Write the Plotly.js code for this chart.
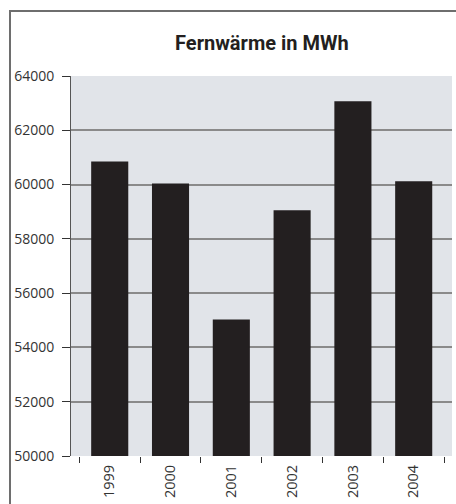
<!DOCTYPE html>
<html>
<head>
<meta charset="utf-8">
<script src="https://cdn.plot.ly/plotly-3.0.1.min.js"></script>
<style>
  html, body { margin: 0; padding: 0; background: #ffffff; overflow: hidden; }
  #frame { position: absolute; left: 9px; top: 10px; width: 600px; height: 600px;
           border-left: 2px solid #6e6e6e; border-top: 2px solid #6e6e6e; }
  #chart { position: absolute; left: 0; top: 0; width: 456px; height: 504px; }
</style>
</head>
<body>
<div id="frame"></div>
<div id="chart"></div>
<script>
const years = ["1999", "2000", "2001", "2002", "2003", "2004"];
const values = [60850, 60040, 55030, 59050, 63070, 60120];
const yTicks = [50000, 52000, 54000, 56000, 58000, 60000, 62000, 64000];
const chartTitle = "Fernwärme in MWh";

const trace = {
  type: "bar",
  x: years,
  y: values,
  width: 0.61,
  marker: { color: "#231f20", line: { width: 0 } },
  hoverinfo: "skip"
};

const layout = {
  width: 456,
  height: 504,
  margin: { l: 71, r: 4, t: 75.5, b: 48, pad: 0 },
  paper_bgcolor: "rgba(0,0,0,0)",
  plot_bgcolor: "#e1e4e9",
  showlegend: false,
  title: {
    text: "<b>" + chartTitle + "</b>",
    font: { family: "Roboto, 'Open Sans', sans-serif", size: 20, color: "#231f20" },
    x: 0.501, xref: "paper", xanchor: "center",
    y: 1 - 43 / 504, yref: "container", yanchor: "middle"
  },
  xaxis: {
    type: "category",
    range: [-0.637, 5.63],
    tickson: "boundaries",
    ticks: "outside",
    ticklen: 6,
    tickwidth: 1,
    tickcolor: "#333333",
    tickangle: -90,
    ticklabelstandoff: 5,
    showgrid: false,
    showline: false,
    zeroline: false,
    tickfont: { family: "'Open Sans', sans-serif", size: 14.5, color: "#333333" },
    fixedrange: true
  },
  yaxis: {
    range: [50000, 64000],
    tickmode: "array",
    tickvals: yTicks,
    ticktext: yTicks.map(String),
    ticks: "outside",
    ticklen: 8,
    tickwidth: 1,
    tickcolor: "#333333",
    showline: true,
    linecolor: "#555555",
    linewidth: 1,
    showgrid: true,
    gridcolor: "#8a8a8a",
    gridwidth: 2,
    zeroline: false,
    ticklabelstandoff: 5,
    tickfont: { family: "'Open Sans', sans-serif", size: 14, color: "#333333" },
    fixedrange: true
  }
};

Plotly.newPlot("chart", [trace], layout, { displayModeBar: false, staticPlot: true });
</script>
</body>
</html>
